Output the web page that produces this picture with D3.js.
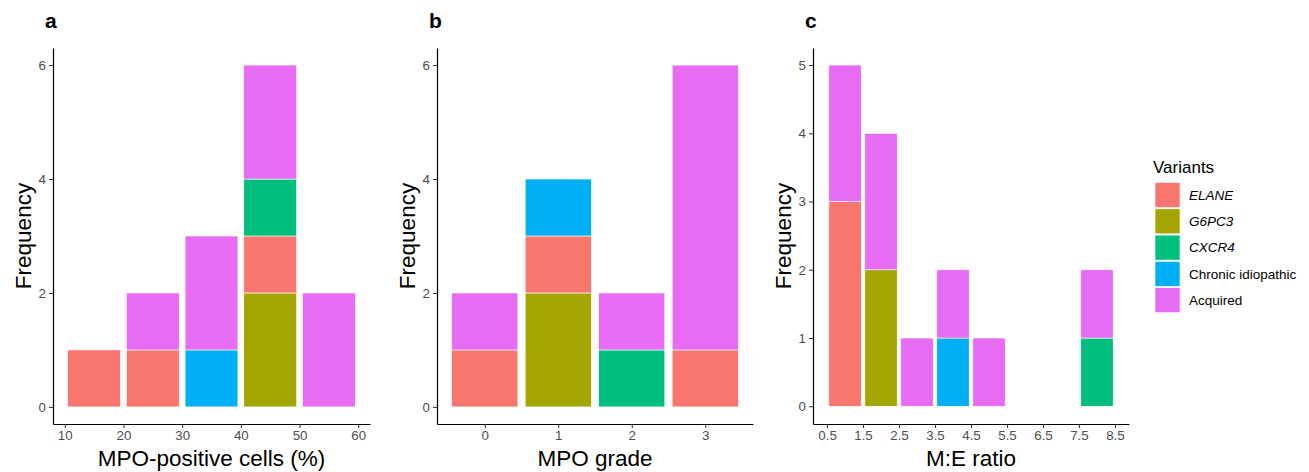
<!DOCTYPE html>
<html>
<head>
<meta charset="utf-8">
<script src="https://cdn.jsdelivr.net/npm/d3@7"></script>
<style>
body { margin: 0; background: #fff; }
svg { font-family: "Liberation Sans", Arial, sans-serif; }
</style>
</head>
<body>
<svg id="chart" width="1309" height="472"></svg>
<script>
const variants = ["ELANE", "G6PC3", "CXCR4", "Chronic idiopathic", "Acquired"];
const variantColors = ["#F8766D", "#A3A500", "#00BF7D", "#00B0F6", "#E76BF3"];
const italicVariants = ["ELANE", "G6PC3", "CXCR4"];

// panel a: MPO-positive cells (%), bins of 10, stacks listed bottom -> top
const mpoPctBins = [10, 20, 30, 40, 50];
const mpoPctStacks = [
  [["ELANE", 1]],
  [["ELANE", 1], ["Acquired", 1]],
  [["Chronic idiopathic", 1], ["Acquired", 2]],
  [["G6PC3", 2], ["ELANE", 1], ["CXCR4", 1], ["Acquired", 2]],
  [["Acquired", 2]]
];
const mpoPctTicks = [10, 20, 30, 40, 50, 60];

// panel b: MPO grade
const mpoGrades = [0, 1, 2, 3];
const mpoGradeStacks = [
  [["ELANE", 1], ["Acquired", 1]],
  [["G6PC3", 2], ["ELANE", 1], ["Chronic idiopathic", 1]],
  [["CXCR4", 1], ["Acquired", 1]],
  [["ELANE", 1], ["Acquired", 5]]
];

// panel c: M:E ratio, bins of 1 starting at 0.5
const meBins = [0.5, 1.5, 2.5, 3.5, 4.5, 7.5];
const meStacks = [
  [["ELANE", 3], ["Acquired", 2]],
  [["G6PC3", 2], ["Acquired", 2]],
  [["Acquired", 1]],
  [["Chronic idiopathic", 1], ["Acquired", 1]],
  [["Acquired", 1]],
  [["CXCR4", 1], ["Acquired", 1]]
];
const meTicks = [0.5, 1.5, 2.5, 3.5, 4.5, 5.5, 6.5, 7.5, 8.5];

const color = d3.scaleOrdinal().domain(variants).range(variantColors);
const svg = d3.select("#chart");

const TOP = 48, BOTTOM = 424;

function panel(opt) {
  const g = svg.append("g");
  const x = d3.scaleLinear().domain(opt.xDomain).range([opt.left, opt.right]);
  const y = d3.scaleLinear().domain(opt.yDomain).range([BOTTOM, TOP]);

  // bars
  opt.starts.forEach((s, i) => {
    let base = 0;
    opt.stacks[i].forEach(([v, n]) => {
      const x0 = s + opt.binW * 0.05, x1 = s + opt.binW * 0.95;
      g.append("rect")
        .attr("x", x(x0))
        .attr("width", x(x1) - x(x0))
        .attr("y", y(base + n))
        .attr("height", y(base) - y(base + n))
        .attr("fill", color(v))
        .attr("stroke", "white")
        .attr("stroke-width", 0.6);
      base += n;
    });
  });

  const yAxis = g.append("g")
    .attr("transform", `translate(${opt.left},0)`)
    .call(d3.axisLeft(y).tickValues(opt.yTicks).tickSize(4).tickSizeOuter(0)
      .tickPadding(3).tickFormat(d3.format("d")));
  const xAxis = g.append("g")
    .attr("transform", `translate(0,${BOTTOM})`)
    .call(d3.axisBottom(x).tickValues(opt.xTicks).tickSize(4).tickSizeOuter(0)
      .tickPadding(3).tickFormat(opt.xFormat || d3.format("d")));
  [yAxis, xAxis].forEach(a => {
    a.attr("font-family", null).attr("font-size", null);
    a.select(".domain").attr("stroke", "#000").attr("stroke-width", 1.2);
    a.selectAll(".tick line").attr("stroke", "#333");
    a.selectAll(".tick text").attr("fill", "#4d4d4d").attr("font-size", 13.3);
  });

  g.append("text")
    .attr("x", opt.left - 8).attr("y", 28)
    .attr("font-size", 21).attr("font-weight", "bold")
    .text(opt.letter);

  g.append("text")
    .attr("transform", `translate(${opt.left - 30},${(TOP + BOTTOM) / 2}) rotate(-90)`)
    .attr("text-anchor", "middle").attr("dy", "0.36em")
    .attr("font-size", 22.5)
    .text("Frequency");

  g.append("text")
    .attr("x", (opt.left + opt.right) / 2).attr("y", 466)
    .attr("text-anchor", "middle")
    .attr("font-size", 22.5)
    .text(opt.xTitle);
}

panel({
  letter: "a", left: 53, right: 370,
  xDomain: [8, 62], yDomain: [-0.3, 6.3],
  starts: mpoPctBins, stacks: mpoPctStacks, binW: 10,
  xTicks: mpoPctTicks, yTicks: [0, 2, 4, 6],
  xTitle: "MPO-positive cells (%)"
});

panel({
  letter: "b", left: 437, right: 753,
  xDomain: [-0.65, 3.65], yDomain: [-0.3, 6.3],
  starts: mpoGrades.map(d => d - 0.5), stacks: mpoGradeStacks, binW: 1,
  xTicks: mpoGrades, yTicks: [0, 2, 4, 6],
  xTitle: "MPO grade"
});

panel({
  letter: "c", left: 813, right: 1129,
  xDomain: [0.11, 8.89], yDomain: [-0.26, 5.25],
  starts: meBins, stacks: meStacks, binW: 1,
  xTicks: meTicks, yTicks: [0, 1, 2, 3, 4, 5],
  xFormat: d3.format(".1f"),
  xTitle: "M:E ratio"
});

// legend
const legend = svg.append("g").attr("transform", "translate(1155,0)");
legend.append("text")
  .attr("x", -2).attr("y", 173)
  .attr("font-size", 17)
  .text("Variants");
variants.forEach((v, i) => {
  const y0 = 182.5 + i * 26.3;
  legend.append("rect")
    .attr("x", 0).attr("y", y0)
    .attr("width", 25).attr("height", 25)
    .attr("fill", color(v))
    .attr("stroke", "white").attr("stroke-width", 0.6);
  legend.append("text")
    .attr("x", 34).attr("y", y0 + 12.5).attr("dy", "0.35em")
    .attr("font-size", 13.5)
    .attr("font-style", italicVariants.includes(v) ? "italic" : null)
    .text(v);
});
</script>
</body>
</html>
